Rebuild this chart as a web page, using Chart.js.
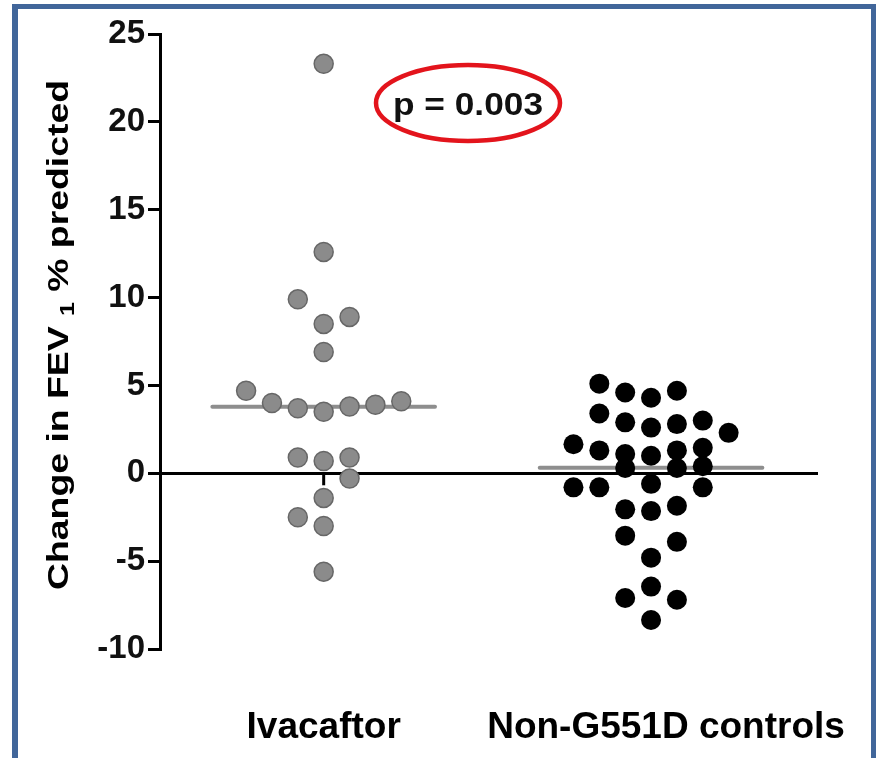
<!DOCTYPE html>
<html>
<head>
<meta charset="utf-8">
<script src="https://cdn.jsdelivr.net/npm/chart.js@4.4.1/dist/chart.umd.min.js"></script>
<style>
  body { margin: 0; background: #fff; }
  canvas { display: block; }
</style>
</head>
<body>
<canvas id="chart" width="876" height="758"></canvas>
<script>
// values
const categories = ['Ivacaftor', 'Non-G551D controls'];
const ivacaftorValues = [23.3, 12.6, 9.9, 8.5, 8.9, 6.9, 4.7, 4.0, 3.7, 3.5, 3.8, 3.9, 4.1, 0.9, 0.7, 0.9, -0.3, -1.4, -2.5, -3.0, -5.6];
const ivacaftorColumns = [0, 0, -1, 0, 1, 0, -3, -2, -1, 0, 1, 2, 3, -1, 0, 1, 1, 0, -1, 0, 0];
const controlValues = [5.1, 4.6, 4.3, 4.7, 3.4, 2.9, 2.6, 2.8, 3.0, 2.3, 1.65, 1.3, 1.1, 1.0, 1.3, 1.45, 0.3, 0.3, 0.4, -0.8, -0.8, -0.6, -0.8, -2.05, -2.15, -1.85, -3.55, -3.9, -4.8, -6.45, -7.1, -7.2, -8.35];
const controlColumns = [-2, -1, 0, 1, -2, -1, 0, 1, 2, 3, -3, -2, -1, 0, 1, 2, -1, 1, 2, -3, -2, 0, 2, -1, 0, 1, -1, 1, 0, 0, -1, 1, 0];
const medians = [3.78, 0.32];
const yTicks = [-10, -5, 0, 5, 10, 15, 20, 25];
const pLabel = 'p = 0.003';

const COLUMN_STEP = 0.079;   // horizontal spacing of stacked dots (x units)
const MEDIAN_HALF = 0.34;    // half length of the median bar (x units)
const FONT = "'Liberation Sans', Arial, sans-serif";

function swarm(values, columns, cat) {
  return values.map((v, i) => ({ x: cat + columns[i] * COLUMN_STEP, y: v }));
}
function medianLine(cat) {
  return [{ x: cat - MEDIAN_HALF, y: medians[cat - 1] }, { x: cat + MEDIAN_HALF, y: medians[cat - 1] }];
}

const decorations = {
  id: 'decorations',
  beforeDraw(chart) {
    const ctx = chart.ctx;
    ctx.save();
    ctx.fillStyle = '#fff';
    ctx.fillRect(0, 0, chart.width, chart.height);
    // blue frame
    ctx.fillStyle = '#41669a';
    ctx.fillRect(12, 4, 6, chart.height);
    ctx.fillRect(12, 4, chart.width - 12, 5);
    ctx.fillRect(chart.width - 5, 4, 5, chart.height);
    ctx.restore();
  },
  beforeDatasetsDraw(chart) {
    const ctx = chart.ctx;
    const x = chart.scales.x, y = chart.scales.y;
    const y0 = y.getPixelForValue(0);
    ctx.save();
    ctx.strokeStyle = '#000';
    ctx.lineWidth = 3;
    categories.forEach((c, i) => {
      const px = x.getPixelForValue(i + 1);
      ctx.beginPath();
      ctx.moveTo(px, y0);
      ctx.lineTo(px, y0 + 12);
      ctx.stroke();
    });
    ctx.restore();
  },
  afterDraw(chart) {
    const ctx = chart.ctx;
    const x = chart.scales.x;
    ctx.save();
    ctx.fillStyle = '#000';

    // category labels
    ctx.font = 'bold 37px ' + FONT;
    ctx.textAlign = 'center';
    ctx.textBaseline = 'alphabetic';
    const shift = [0, 15];
    categories.forEach((c, i) => {
      ctx.fillText(c, x.getPixelForValue(i + 1) + shift[i], 738);
    });

    // y axis title with subscript
    const mainFont = 'bold 30px ' + FONT;
    const subFont = 'bold 20px ' + FONT;
    const a = 'Change in FEV ', s = '1', b = ' % predicted';
    ctx.font = mainFont;
    const wa = ctx.measureText(a).width, wb = ctx.measureText(b).width;
    ctx.font = subFont;
    const ws = ctx.measureText(s).width;
    const total = wa + ws + wb;
    ctx.translate(68, 335);
    ctx.rotate(-Math.PI / 2);
    ctx.scale(510 / total, 1);
    ctx.textAlign = 'left';
    ctx.font = mainFont;
    ctx.fillText(a, -total / 2, 0);
    ctx.font = subFont;
    ctx.fillText(s, -total / 2 + wa, 6);
    ctx.font = mainFont;
    ctx.fillText(b, -total / 2 + wa + ws, 0);
    ctx.restore();

    // p value with red ellipse
    ctx.save();
    ctx.strokeStyle = '#e3141c';
    ctx.lineWidth = 4.5;
    ctx.beginPath();
    ctx.ellipse(468, 103, 92, 38, 0, 0, Math.PI * 2);
    ctx.stroke();
    ctx.font = 'bold 32px ' + FONT;
    const wp = ctx.measureText(pLabel).width;
    ctx.translate(468, 115);
    ctx.scale(150 / wp, 1);
    ctx.textAlign = 'center';
    ctx.fillStyle = '#111';
    ctx.fillText(pLabel, 0, 0);
    ctx.restore();
  }
};

new Chart(document.getElementById('chart'), {
  type: 'scatter',
  data: {
    datasets: [
      {
        data: swarm(ivacaftorValues, ivacaftorColumns, 1),
        backgroundColor: '#8b8b8b',
        borderColor: '#676767',
        borderWidth: 1.5,
        pointRadius: 9.5,
        order: 1
      },
      {
        data: swarm(controlValues, controlColumns, 2),
        backgroundColor: '#000',
        borderColor: '#000',
        borderWidth: 0,
        pointRadius: 10,
        order: 1
      },
      {
        type: 'line',
        data: medianLine(1),
        borderColor: '#8e8e8e',
        borderWidth: 4,
        pointRadius: 0,
        borderCapStyle: 'round',
        order: 2
      },
      {
        type: 'line',
        data: medianLine(2),
        borderColor: '#8e8e8e',
        borderWidth: 4,
        pointRadius: 0,
        borderCapStyle: 'round',
        order: 2
      }
    ]
  },
  options: {
    responsive: false,
    animation: false,
    devicePixelRatio: 1,
    layout: { padding: { top: 34, right: 58, bottom: 109, left: 0 } },
    plugins: { legend: { display: false }, tooltip: { enabled: false } },
    scales: {
      x: { type: 'linear', min: 0.5, max: 2.51, display: false },
      y: {
        min: -10,
        max: 25,
        afterFit: (s) => { s.width = 160; },
        afterBuildTicks: (s) => { s.ticks = yTicks.map(v => ({ value: v })); },
        ticks: {
          color: '#111',
          padding: 3,
          font: { family: FONT, size: 33, weight: 'bold' }
        },
        grid: {
          drawOnChartArea: true,
          color: (c) => (c.tick && c.tick.value === 0 ? '#000' : 'rgba(0,0,0,0)'),
          lineWidth: 3,
          tickLength: 12,
          tickColor: '#000',
          tickWidth: 3
        },
        border: { display: true, color: '#000', width: 3 }
      }
    }
  },
  plugins: [decorations]
});
</script>
</body>
</html>
